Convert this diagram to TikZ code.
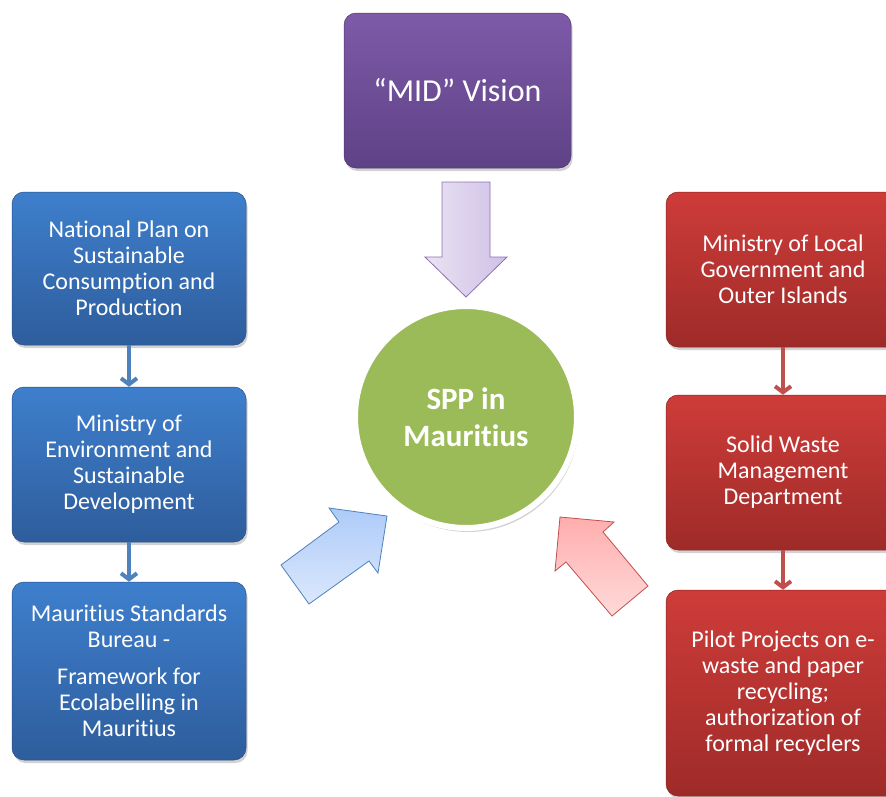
\documentclass[tikz,border=0pt]{standalone}
\usepackage{fontspec}
\setmainfont{Carlito}[Ligatures=NoCommon]
\usetikzlibrary{shadows,arrows.meta}
\definecolor{blueT}{HTML}{3E7FCD}
\definecolor{blueB}{HTML}{2E5D9C}
\definecolor{redT}{HTML}{CE3C39}
\definecolor{redB}{HTML}{9E2B29}
\definecolor{purT}{HTML}{7E5AA8}
\definecolor{purB}{HTML}{5E4286}
\definecolor{greenC}{HTML}{9BBB59}
\definecolor{blueLine}{HTML}{4F81BD}
\definecolor{redLine}{HTML}{C0504D}
\definecolor{purLine}{HTML}{8A72B0}
\definecolor{fbT}{HTML}{ADCBF8}
\definecolor{fbB}{HTML}{DCE8FD}
\definecolor{frT}{HTML}{FFADAD}
\definecolor{frB}{HTML}{FFDADA}
\definecolor{fpL}{HTML}{EAE3F4}
\definecolor{fpR}{HTML}{CFC0E6}
\begin{document}
\begin{tikzpicture}[x=1pt,y=-1pt,
  box/.style={rounded corners=12pt, minimum width=234pt, text=white, align=center,
    font=\fontsize{24}{26}\selectfont, inner sep=0pt,
    drop shadow={opacity=0.35, shadow xshift=1.5pt, shadow yshift=-3pt}},
  bluebox/.style={box, top color=blueT, bottom color=blueB, draw=blueB!85!black, line width=0.5pt},
  redbox/.style={box, top color=redT, bottom color=redB, draw=redB!85!black, line width=0.5pt},
  purbox/.style={box, minimum width=227pt, top color=purT, bottom color=purB, draw=purB!85!black, line width=0.5pt,
    font=\fontsize{32}{36}\selectfont},
  bconn/.style={draw=blueLine, line width=4pt, -{Straight Barb[length=6pt,width=16pt]}},
  rconn/.style={draw=redLine, line width=4pt, -{Straight Barb[length=6pt,width=16pt]}},
  fatarrow/.style={line width=0.8pt, line join=miter}
]
\useasboundingbox (0,0) rectangle (886,796);
\begin{scope}
\clip (0,0) rectangle (886,796);
\fill[white] (0,0) rectangle (886,796);

% top box
\node[purbox, minimum height=155pt] (mid) at (457.5,90.5) {“MID” Vision};

% left boxes
\node[bluebox, minimum height=153pt] (b1) at (129,268.5) {National Plan on\\Sustainable\\Consumption and\\Production};
\node[bluebox, minimum height=155pt] (b2) at (129,464.5) {Ministry of\\Environment and\\Sustainable\\Development};
\node[bluebox, minimum height=178pt] (b3) at (129,671) {Mauritius Standards\\Bureau -\\[11pt]Framework for\\Ecolabelling in\\Mauritius};

% right boxes
\node[redbox, minimum height=155pt] (r1) at (783,269.5) {Ministry of Local\\Government and\\Outer Islands};
\node[redbox, minimum height=155pt] (r2) at (783,472.5) {Solid Waste\\Management\\Department};
\node[redbox, minimum height=206pt] (r3) at (783,693) {Pilot Projects on e-\\waste and paper\\recycling;\\authorization of\\formal recyclers};

% connectors
\draw[bconn] (b1.south) -- (b2.north);
\draw[bconn] (b2.south) -- (b3.north);
\draw[rconn] (r1.south) -- (r2.north);
\draw[rconn] (r2.south) -- (r3.north);

% center circle
\node[circle, minimum size=222pt, fill=greenC, draw=white, line width=6pt, text=white, align=center,
  font=\bfseries\fontsize{31}{37}\selectfont,
  drop shadow={opacity=0.35, shadow xshift=2pt, shadow yshift=-4pt}] (spp) at (466,417) {SPP in\\Mauritius};

% block arrows
\draw[fatarrow, draw=purLine, left color=fpL, right color=fpR]
  (442,182) -- (490,182) -- (490,257) -- (507,257) -- (466,297) -- (425,257) -- (442,257) -- cycle;
\draw[fatarrow, draw=blueLine, top color=fbT, bottom color=fbB]
  (281,565) -- (339,522) -- (329,508) -- (387,516) -- (378,573) -- (369,561) -- (309,604) -- cycle;
\draw[fatarrow, draw=redLine, top color=frT, bottom color=frB]
  (560,517) -- (614,522) -- (603,532) -- (648,586) -- (612,616) -- (566,562) -- (555,571) -- cycle;
\end{scope}
\end{tikzpicture}
\end{document}
